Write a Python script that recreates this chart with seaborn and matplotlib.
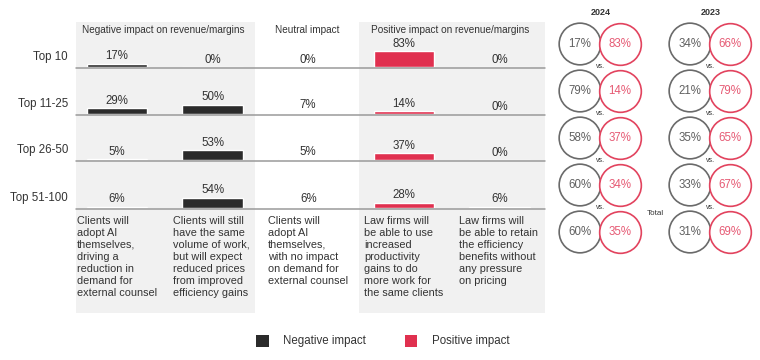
import numpy as np
import pandas as pd
import matplotlib.pyplot as plt
import seaborn as sns
from matplotlib.patches import Rectangle

# --- data ---
rows = ["Top 10", "Top 11-25", "Top 26-50", "Top 51-100"]
columns = ["neg_reduce", "neg_price", "neutral", "pos_more", "pos_retain"]
neg_reduce = [17, 29, 5, 6]
neg_price = [0, 50, 53, 54]
neutral = [0, 7, 5, 6]
pos_more = [83, 14, 37, 28]
pos_retain = [0, 0, 0, 6]

headers = ["Negative impact on revenue/margins", "Neutral impact",
           "Positive impact on revenue/margins"]
descriptions = [
    "Clients will\nadopt AI\nthemselves,\ndriving a\nreduction in\ndemand for\nexternal counsel",
    "Clients will still\nhave the same\nvolume of work,\nbut will expect\nreduced prices\nfrom improved\nefficiency gains",
    "Clients will\nadopt AI\nthemselves,\nwith no impact\non demand for\nexternal counsel",
    "Law firms will\nbe able to use\nincreased\nproductivity\ngains to do\nmore work for\nthe same clients",
    "Law firms will\nbe able to retain\nthe efficiency\nbenefits without\nany pressure\non pricing",
]

years = ["2024", "2023"]
neg_2024 = [17, 79, 58, 60, 60]
pos_2024 = [83, 14, 37, 34, 35]
neg_2023 = [34, 21, 35, 33, 31]
pos_2023 = [66, 79, 65, 67, 69]

df = pd.DataFrame({
    "row": np.repeat(rows, len(columns)),
    "col": columns * len(rows),
    "value": np.array([neg_reduce, neg_price, neutral, pos_more, pos_retain]).T.ravel(),
})

# --- style ---
sns.set_style("white")
plt.rcParams["font.family"] = ["Liberation Sans", "DejaVu Sans"]

DARK = "#2b2b2b"
RED = "#e0304f"
GREY = "#707070"
SHADE = "#f1f1f1"
TXT = "#333333"
col_colors = {"neg_reduce": DARK, "neg_price": DARK, "neutral": GREY,
              "pos_more": RED, "pos_retain": RED}

W, H = 760, 360
fig = plt.figure(figsize=(W / 100, H / 100), dpi=100)


def ax_px(x0, y0, w, h):
    return fig.add_axes([x0 / W, 1 - (y0 + h) / H, w / W, h / H])


# background layer in pixel units
bg = ax_px(0, 0, W, H)
bg.set_xlim(0, W)
bg.set_ylim(H, 0)
bg.axis("off")
bg.add_patch(Rectangle((76, 22), 179, 291, color=SHADE, lw=0, zorder=0))
bg.add_patch(Rectangle((359, 22), 186, 291, color=SHADE, lw=0, zorder=0))

col_w = 95.6
centers = [117 + col_w * i for i in range(5)]
baselines = [67, 114, 160, 208]
px_per_pct = 0.19
cell_h = 40

for x, t in zip([163, 307, 450], headers):
    bg.text(x, 30, t, ha="center", va="center", fontsize=7.2, color=TXT)

for r, name in enumerate(rows):
    base = baselines[r]
    bg.text(68, base - 10, name, ha="right", va="center", fontsize=8.3, color=TXT)
    bg.plot([76, 545], [base + 0.5, base + 0.5], color="#9a9a9a", lw=1.1, zorder=1)
    sub = df[df["row"] == name]
    for c, key in enumerate(columns):
        val = int(sub.loc[sub["col"] == key, "value"].iloc[0])
        ax = ax_px(centers[c] - col_w / 2, base - cell_h, col_w, cell_h)
        ax.patch.set_alpha(0)
        sns.barplot(x=[key], y=[val], color=col_colors[key], width=0.63,
                    saturation=1, ax=ax)
        ax.set_xlim(-0.5, 0.5)
        ax.set_ylim(0, cell_h / px_per_pct)
        ax.axis("off")
        ax.annotate(f"{val}%", (0, val), xytext=(0, 1), textcoords="offset points",
                    ha="center", va="bottom", fontsize=8.3, color=TXT)

for c, d in enumerate(descriptions):
    bg.text(centers[c] - 40, 216, d, ha="left", va="top", fontsize=7.8,
            color=TXT, linespacing=1.24)

# legend
bg.add_patch(Rectangle((256, 335), 13, 12, color=DARK, lw=0))
bg.text(283, 341, "Negative impact", ha="left", va="center", fontsize=8.3, color=TXT)
bg.add_patch(Rectangle((405, 335), 12, 12, color=RED, lw=0))
bg.text(432, 341, "Positive impact", ha="left", va="center", fontsize=8.3, color=TXT)

# --- circle pairs ---
unit = 47
cax = ax_px(580 - 0.6 * unit, 44 - 0.8 * unit, 4.4 * unit, 5.4 * unit)
cax.set_xlim(-0.6, 3.8)
cax.set_ylim(4.6, -0.8)
cax.axis("off")
cax.patch.set_alpha(0)

circ = pd.DataFrame({
    "row": list(range(5)) * 4,
    "x": [0] * 5 + [0.85] * 5 + [2.34] * 5 + [3.19] * 5,
    "value": neg_2024 + pos_2024 + neg_2023 + pos_2023,
    "kind": ["neg"] * 5 + ["pos"] * 5 + ["neg"] * 5 + ["pos"] * 5,
})
edge = {"neg": "#6a6a6a", "pos": "#e2435e"}
tcol = {"neg": "#606060", "pos": "#e65a74"}
for kind in ["neg", "pos"]:
    part = circ[circ["kind"] == kind]
    sns.scatterplot(data=part, x="x", y="row", s=900, marker="o",
                    facecolor="white" if kind == "pos" else "none",
                    edgecolor=edge[kind], linewidth=1.2, ax=cax, legend=False,
                    zorder=2 if kind == "neg" else 3)
    for _, rr in part.iterrows():
        cax.text(rr["x"], rr["row"], f"{rr['value']}%", ha="center", va="center",
                 fontsize=8.3, color=tcol[kind], zorder=4)
cax.set_xlim(-0.6, 3.8)
cax.set_ylim(4.6, -0.8)

for xm, yr in zip([0.44, 2.78], years):
    cax.text(xm, -0.68, yr, ha="center", va="center", fontsize=6.5,
             fontweight="bold", color=TXT)
    for r in range(4):
        cax.text(xm, r + 0.47, "vs.", ha="center", va="center", fontsize=5,
                 color=TXT, zorder=5)
cax.text(1.6, 3.6, "Total", ha="center", va="center", fontsize=5.8, color=TXT)

fig.savefig("out.png", dpi=100)
